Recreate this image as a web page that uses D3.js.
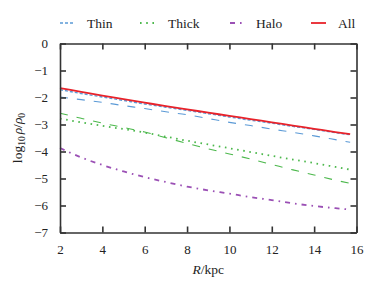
<!DOCTYPE html>
<html>
<head>
<meta charset="utf-8">
<script src="https://cdn.jsdelivr.net/npm/d3@7"></script>
<style>
  body { margin: 0; background: #fff; }
  text { font-family: "Liberation Serif", "DejaVu Serif", serif; fill: #222; }
</style>
</head>
<body>
<div id="chart"></div>
<script>
// radii (kpc) where values were read
const radii = [2, 3, 4, 5, 6, 7, 8, 9, 10, 11, 12, 13, 14, 15, 15.7];

// log10 rho/rho0 for each component
const allVals   = [-1.65, -1.79, -1.93, -2.06, -2.19, -2.32, -2.44, -2.56, -2.68, -2.80, -2.92, -3.04, -3.16, -3.28, -3.36];
const thinA     = [-1.71, -1.85, -1.98, -2.11, -2.24, -2.36, -2.48, -2.60, -2.72, -2.84, -2.95, -3.07, -3.18, -3.30, -3.38];
const thinB     = [-1.98, -2.08, -2.18, -2.30, -2.41, -2.53, -2.64, -2.78, -2.92, -3.04, -3.17, -3.29, -3.42, -3.56, -3.66];
const thickA    = [-2.78, -2.92, -3.05, -3.17, -3.30, -3.45, -3.60, -3.74, -3.88, -4.02, -4.16, -4.30, -4.43, -4.57, -4.67];
const thickB    = [-2.58, -2.77, -2.95, -3.11, -3.28, -3.49, -3.70, -3.90, -4.09, -4.28, -4.48, -4.68, -4.87, -5.06, -5.18];
const haloVals  = [-3.87, -4.22, -4.50, -4.74, -4.95, -5.13, -5.30, -5.44, -5.56, -5.69, -5.80, -5.92, -6.02, -6.10, -6.15];

const xTicks = [2, 4, 6, 8, 10, 12, 14, 16];
const yTicks = [0, -1, -2, -3, -4, -5, -6, -7];

const legendNames = ["Thin", "Thick", "Halo", "All"];

const width = 374, height = 292;
const margin = { top: 43.5, right: 17.5, bottom: 59.5, left: 60 };
const w = width - margin.left - margin.right;
const h = height - margin.top - margin.bottom;

const blue = "#5b9ad6", green = "#4cb84c", purple = "#9b50b5", red = "#e8222a";

const svg = d3.select("#chart").append("svg")
    .attr("width", width)
    .attr("height", height);

const g = svg.append("g")
    .attr("transform", `translate(${margin.left},${margin.top})`);

const x = d3.scaleLinear().domain([2, 16]).range([0, w]);
const y = d3.scaleLinear().domain([-7, 0]).range([h, 0]);

const fmt = d => d < 0 ? "\u2212" + Math.abs(d) : String(d);

// the curves
const line = d3.line()
    .x((d, i) => x(radii[i]))
    .y(d => y(d))
    .curve(d3.curveMonotoneX);

const series = [
    { vals: thinB,    color: blue,   dash: "8,9",          lw: 1.1 },
    { vals: thickB,   color: green,  dash: "8,9",          lw: 1.1 },
    { vals: thickA,   color: green,  dash: "1.6,4.6",      lw: 1.8 },
    { vals: haloVals, color: purple, dash: "5,5,1.6,5",    lw: 1.8 },
    { vals: thinA,    color: blue,   dash: "3,2",          lw: 1.4 },
    { vals: allVals,  color: red,    dash: null,           lw: 1.8 }
];

series.forEach(s => {
    g.append("path")
        .datum(s.vals)
        .attr("d", line)
        .attr("fill", "none")
        .attr("stroke", s.color)
        .attr("stroke-width", s.lw)
        .attr("stroke-dasharray", s.dash);
});

// axes: ticks inward on all four sides
const axisColor = "#333";
const tickLen = 6;

const axB = g.append("g")
    .attr("transform", `translate(0,${h})`)
    .call(d3.axisBottom(x).tickValues(xTicks).tickSizeInner(-tickLen).tickSizeOuter(0).tickPadding(12));
const axT = g.append("g")
    .call(d3.axisTop(x).tickValues(xTicks).tickSizeInner(-tickLen).tickSizeOuter(0).tickFormat(""));
const axL = g.append("g")
    .call(d3.axisLeft(y).tickValues(yTicks).tickSizeInner(-tickLen).tickSizeOuter(0).tickPadding(12).tickFormat(fmt));
const axR = g.append("g")
    .attr("transform", `translate(${w},0)`)
    .call(d3.axisRight(y).tickValues(yTicks).tickSizeInner(-tickLen).tickSizeOuter(0).tickFormat(""));

[axB, axT, axL, axR].forEach(a => {
    a.select(".domain").attr("stroke", axisColor).attr("stroke-width", 1.6);
    a.selectAll(".tick line").attr("stroke", axisColor).attr("stroke-width", 1.6);
    a.selectAll("text")
        .style("font-family", "'Liberation Serif', serif")
        .style("font-size", "13px")
        .attr("fill", "#222");
});

// axis titles
const xt = svg.append("text")
    .attr("x", margin.left + w / 2)
    .attr("y", 274)
    .attr("text-anchor", "middle")
    .style("font-size", "13.5px");
xt.append("tspan").attr("font-style", "italic").text("R");
xt.append("tspan").text("/kpc");

const yt = svg.append("text")
    .attr("transform", `translate(22,${margin.top + h / 2}) rotate(-90)`)
    .attr("text-anchor", "middle")
    .style("font-size", "13.5px");
yt.append("tspan").text("log");
yt.append("tspan").attr("baseline-shift", "-25%").style("font-size", "9.5px").text("10");
yt.append("tspan").attr("font-style", "italic").attr("dx", 2).text("\u03c1");
yt.append("tspan").text("/");
yt.append("tspan").attr("font-style", "italic").text("\u03c1");
yt.append("tspan").attr("baseline-shift", "-25%").style("font-size", "9.5px").text("0");

// legend
const legendStyle = [
    { color: blue,   dash: "3,2",       lw: 1.4, x: 60 },
    { color: green,  dash: "1.6,4.6",   lw: 1.8, x: 140 },
    { color: purple, dash: "5,5,1.6,5", lw: 1.8, x: 230 },
    { color: red,    dash: null,        lw: 1.8, x: 311 }
];
const textX = [87, 168, 256, 338];

const legend = svg.append("g");
legendNames.forEach((name, i) => {
    const st = legendStyle[i];
    legend.append("line")
        .attr("x1", st.x).attr("x2", st.x + 15)
        .attr("y1", 23).attr("y2", 23)
        .attr("stroke", st.color)
        .attr("stroke-width", st.lw)
        .attr("stroke-dasharray", st.dash);
    legend.append("text")
        .attr("x", textX[i])
        .attr("y", 27.5)
        .style("font-size", "13.5px")
        .text(name);
});
</script>
</body>
</html>
